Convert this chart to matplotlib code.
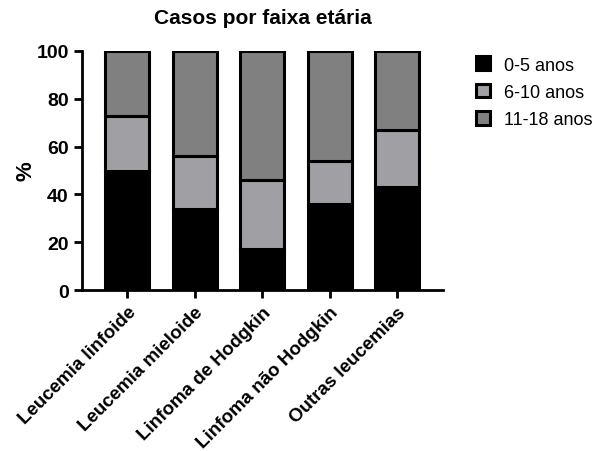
import matplotlib.pyplot as plt
import numpy as np

categorias = ["Leucemia linfoide", "Leucemia mieloide", "Linfoma de Hodgkin",
              "Linfoma não Hodgkin", "Outras leucemias"]
faixa_0_5 = [50, 34, 17, 36, 43]
faixa_6_10 = [23, 22, 29, 18, 24]
faixa_11_18 = [27, 44, 54, 46, 33]
series = ["0-5 anos", "6-10 anos", "11-18 anos"]
cores = ["#000000", "#a0a0a4", "#808080"]

plt.rcParams["font.family"] = ["Liberation Sans", "DejaVu Sans"]

fig = plt.figure(figsize=(6.05, 4.52), dpi=100)
ax = fig.add_axes([0.1355, 0.356, 0.597, 0.529])

x = np.arange(len(categorias))
base = np.zeros(len(categorias))
for nome, valores, cor in zip(series, [faixa_0_5, faixa_6_10, faixa_11_18], cores):
    ax.bar(x, valores, 0.65, bottom=base, color=cor, edgecolor="black",
           linewidth=2.2, label=nome)
    base += np.array(valores)

ax.set_xlim(-0.67, 4.68)
ax.set_ylim(0, 100)
ax.set_yticks([0, 20, 40, 60, 80, 100])
ax.set_xticks(x)
ax.set_xticklabels(categorias, rotation=45, ha="right", rotation_mode="anchor",
                   fontsize=13.5, fontweight="bold")
for lab in ax.get_yticklabels():
    lab.set_fontsize(14)
    lab.set_fontweight("bold")
ax.tick_params(width=2, length=6)
for s in ["top", "right"]:
    ax.spines[s].set_visible(False)
for s in ["left", "bottom"]:
    ax.spines[s].set_linewidth(2)
ax.set_ylabel("%", fontsize=16, fontweight="bold", labelpad=0)
ax.set_title("Casos por faixa etária", fontsize=15, fontweight="bold", pad=20)

ax.legend(loc="upper left", bbox_to_anchor=(1.045, 1.045), frameon=False,
          fontsize=13, handlelength=0.8, handleheight=0.8, handletextpad=0.75,
          labelspacing=0.55)

plt.savefig("out.png", dpi=100)
